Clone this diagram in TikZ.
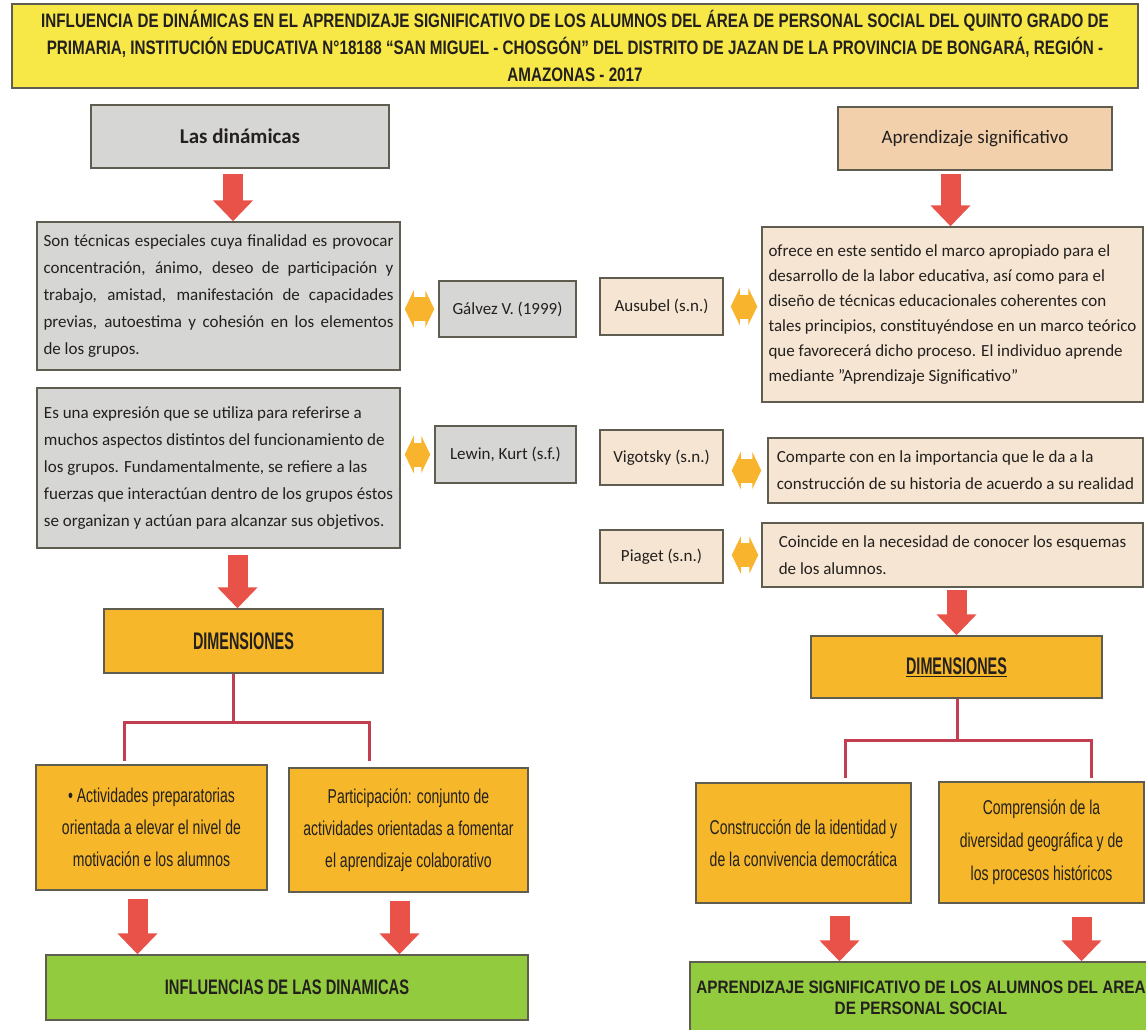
\documentclass[tikz,border=0pt]{standalone}
\usepackage{fontspec}
\setmainfont{Carlito}
\newfontfamily\narrowfont{Liberation Sans}[FakeStretch=0.7]
\newfontfamily\titlefont{Liberation Sans}[FakeStretch=0.78]
\newfontfamily\semifont{Liberation Sans}[FakeStretch=0.85]
\newfontfamily\tallfont{Liberation Sans}[FakeStretch=0.6]
\usetikzlibrary{arrows.meta}

\definecolor{titleyellow}{RGB}{247,232,72}
\definecolor{boxgray}{RGB}{214,214,212}
\definecolor{boxpeach}{RGB}{242,208,172}
\definecolor{boxcream}{RGB}{245,229,210}
\definecolor{boxorange}{RGB}{246,184,42}
\definecolor{boxgreen}{RGB}{146,204,62}
\definecolor{boxline}{RGB}{95,92,80}
\definecolor{arrowred}{RGB}{232,82,72}
\definecolor{linkorange}{RGB}{248,180,45}
\definecolor{branchred}{RGB}{196,62,82}
\definecolor{inktext}{RGB}{35,32,30}

\newcommand{\bodyfont}{\fontsize{17}{27}\selectfont}
\newcommand{\dimfont}{\narrowfont\fontsize{20}{32}\selectfont}

\tikzset{
  box/.style={draw=boxline, line width=1.5pt, rectangle, inner sep=0pt, text=inktext},
  yellowbox/.style={box, fill=titleyellow},
  graybox/.style={box, fill=boxgray},
  peachbox/.style={box, fill=boxpeach},
  creambox/.style={box, fill=boxcream},
  orangebox/.style={box, fill=boxorange},
  greenbox/.style={box, fill=boxgreen},
  redarrow/.style={draw=arrowred, line width=20pt, -{Triangle[width=39pt,length=21pt]}},
  linkarrow/.style={draw=linkorange, line width=24pt,
    {Triangle[width=37pt,length=9pt]}-{Triangle[width=37pt,length=9pt]}},
  branch/.style={draw=branchred, line width=3pt}
}

\begin{document}
\begin{tikzpicture}[x=1pt,y=-1pt]
\useasboundingbox (0,0) rectangle (1146,1029);
\fill[white] (0,0) rectangle (1146,1029);

% titulo
\node[yellowbox, minimum width=1126pt, minimum height=84pt, align=center,
  font=\titlefont\bfseries\fontsize{19.5}{27}\selectfont] (title) at (575,46)
  {INFLUENCIA DE DINÁMICAS EN EL APRENDIZAJE SIGNIFICATIVO DE LOS ALUMNOS DEL ÁREA DE PERSONAL SOCIAL DEL QUINTO GRADO DE\\
   PRIMARIA, INSTITUCIÓN EDUCATIVA N°18188 “SAN MIGUEL - CHOSGÓN” DEL DISTRITO DE JAZAN DE LA PROVINCIA DE BONGARÁ, REGIÓN -\\
   AMAZONAS - 2017};

% columna izquierda
\node[graybox, minimum width=298pt, minimum height=63pt, font=\bfseries\fontsize{21}{25}\selectfont] (dinam) at (240,136.5) {Las dinámicas};
\node[graybox, minimum height=148pt, text width=350pt, inner xsep=6.5pt, align=justify, font=\bodyfont] (tecnicas) at (218.5,296)
  {Son técnicas especiales cuya finalidad es provocar\linebreak
   concentración, ánimo, deseo de participación y\linebreak
   trabajo, amistad, manifestación de capacidades\linebreak
   previas, autoestima y cohesión en los elementos\linebreak
   de los grupos.};
\node[graybox, minimum width=137pt, minimum height=56pt, font=\bodyfont] (galvez) at (507.5,309) {Gálvez V. (1999)};
\node[graybox, minimum width=363pt, minimum height=160pt, align=left, font=\bodyfont] (expresion) at (218.5,468)
  {Es una expresión que se utiliza para referirse a\\
   muchos aspectos distintos del funcionamiento de\\
   los grupos. Fundamentalmente, se refiere a las\\
   fuerzas que interactúan dentro de los grupos éstos\\
   se organizan y actúan para alcanzar sus objetivos.};
\node[graybox, minimum width=141pt, minimum height=57pt, font=\bodyfont] (lewin) at (505.5,454.5) {Lewin, Kurt (s.f.)};

\node[orangebox, minimum width=279pt, minimum height=64pt, font=\tallfont\bfseries\fontsize{24}{28}\selectfont] (dimL) at (243.5,641) {DIMENSIONES};
\node[orangebox, minimum width=231pt, minimum height=125pt, align=center, font=\dimfont] (actA) at (151.5,827.5)
  {• Actividades preparatorias\\ orientada a elevar el nivel de\\ motivación e los alumnos};
\node[orangebox, minimum width=239pt, minimum height=124pt, align=center, font=\dimfont] (actB) at (408.5,830)
  {Participación: conjunto de\\ actividades orientadas a fomentar\\ el aprendizaje colaborativo};
\node[greenbox, minimum width=482pt, minimum height=65pt, font=\narrowfont\bfseries\fontsize{21}{25}\selectfont] (inflL) at (287,987.5) {INFLUENCIAS DE LAS DINAMICAS};

% columna derecha
\node[peachbox, minimum width=274pt, minimum height=63pt, font=\fontsize{19}{23}\selectfont] (aprend) at (975,138.5) {Aprendizaje significativo};
\node[creambox, minimum width=381pt, minimum height=175pt, align=left, font=\fontsize{17}{25}\selectfont] (ofrece) at (952.5,314.5)
  {ofrece en este sentido el marco apropiado para el\\
   desarrollo de la labor educativa, así como para el\\
   diseño de técnicas educacionales coherentes con\\
   tales principios, constituyéndose en un marco teórico\\
   que favorecerá dicho proceso. El individuo aprende\\
   mediante "Aprendizaje Significativo"};
\node[creambox, minimum width=123pt, minimum height=57pt, font=\bodyfont] (ausubel) at (661.5,306.5) {Ausubel (s.n.)};
\node[creambox, minimum width=123pt, minimum height=55pt, font=\bodyfont] (vigotsky) at (661.5,457.5) {Vigotsky (s.n.)};
\node[creambox, minimum width=375pt, minimum height=65pt, align=left, font=\fontsize{17}{27}\selectfont] (comparte) at (955.5,470.5)
  {Comparte con en la importancia que le da a la\\
   construcción de su historia de acuerdo a su realidad};
\node[creambox, minimum width=123pt, minimum height=53pt, font=\bodyfont] (piaget) at (661.5,556.5) {Piaget (s.n.)};
\node[creambox, minimum width=381pt, minimum height=64pt, align=left, font=\fontsize{17}{27}\selectfont] (coincide) at (952.5,555)
  {Coincide en la necesidad de conocer los esquemas\\
   de los alumnos.};

\node[orangebox, minimum width=291pt, minimum height=62pt, font=\tallfont\bfseries\fontsize{24}{28}\selectfont] (dimR) at (956.5,667) {\underline{DIMENSIONES}};
\node[orangebox, minimum width=215pt, minimum height=120pt, align=center, font=\dimfont] (actC) at (803.5,843)
  {Construcción de la identidad y\\ de la convivencia democrática};
\node[orangebox, minimum width=205pt, minimum height=121pt, align=center, font=\narrowfont\fontsize{20}{33}\selectfont] (actD) at (1041.5,842.5)
  {Comprensión de la\\ diversidad geográfica y de\\ los procesos históricos};
\node[greenbox, minimum width=462pt, minimum height=72pt, align=center, font=\semifont\bfseries\fontsize{18}{21}\selectfont] (aprendR) at (921,998)
  {APRENDIZAJE SIGNIFICATIVO DE LOS ALUMNOS DEL AREA\\ DE PERSONAL SOCIAL};

% flechas rojas
\coordinate (a1) at ([xshift=-7pt]dinam.south);
\draw[redarrow, shorten <=5pt] (a1) -- (a1 |- tecnicas.north);
\coordinate (a2) at ([xshift=-6pt]dimL.north);
\draw[redarrow, shorten <=6pt] (a2 |- expresion.south) -- (a2);
\coordinate (a3) at ([xshift=-14pt]actA.south);
\draw[redarrow, shorten <=8pt] (a3) -- (a3 |- inflL.north);
\coordinate (a4) at ([xshift=-9pt]actB.south);
\draw[redarrow, shorten <=8pt] (a4) -- (a4 |- inflL.north);
\coordinate (a5) at ([xshift=-2pt]ofrece.north);
\draw[redarrow, shorten <=3pt] (a5 |- aprend.south) -- (a5);
\draw[redarrow, shorten <=2pt] (coincide.south -| dimR.north) -- (dimR.north);
\coordinate (a7) at ([xshift=36pt]actC.south);
\draw[redarrow, shorten <=12pt] (a7) -- (a7 |- aprendR.north);
\coordinate (a8) at ([xshift=40pt]actD.south);
\draw[redarrow, shorten <=13pt] (a8) -- (a8 |- aprendR.north);

% flechas dobles
\draw[linkarrow, shorten <=4pt, shorten >=4pt] (galvez.west) -- (galvez.west -| tecnicas.east);
\draw[linkarrow, shorten <=4pt, shorten >=4pt] (lewin.west) -- (lewin.west -| expresion.east);
\draw[linkarrow, shorten <=7pt, shorten >=4pt] (ausubel.east) -- (ausubel.east -| ofrece.west);
\draw[linkarrow, shorten <=6pt, shorten >=8pt] (comparte.west) -- (comparte.west -| vigotsky.east);
\draw[linkarrow, shorten <=3pt, shorten >=8pt] (coincide.west) -- (coincide.west -| piaget.east);

% ramas
\coordinate (forkL) at (233,722);
\coordinate (legA) at (124,761);
\coordinate (legB) at (369,761);
\draw[branch] (forkL |- dimL.south) -- (forkL);
\draw[branch] (legA) |- (forkL) -| (legB);
\coordinate (forkR) at (957,740);
\coordinate (legC) at (845,778);
\coordinate (legD) at (1091,778);
\draw[branch] (forkR |- dimR.south) -- (forkR);
\draw[branch] (legC) |- (forkR) -| (legD);
\end{tikzpicture}
\end{document}
